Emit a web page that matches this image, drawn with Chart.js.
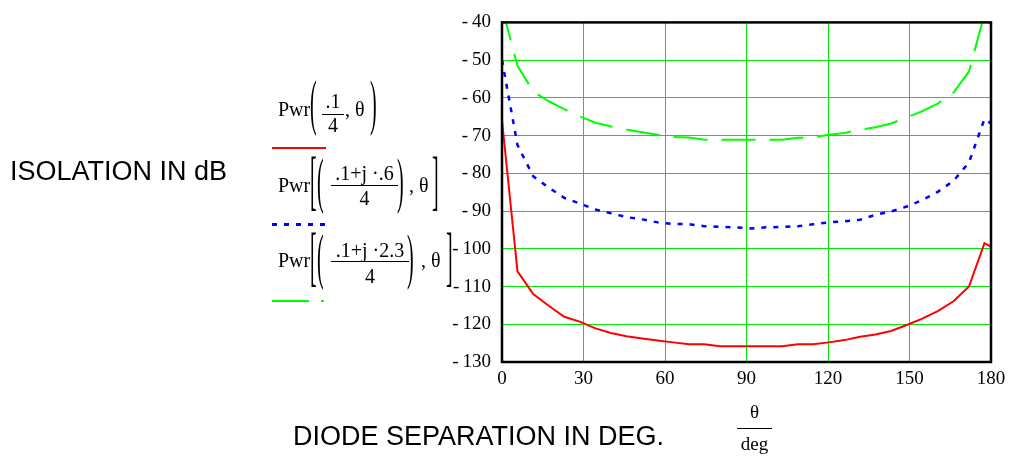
<!DOCTYPE html>
<html>
<head>
<meta charset="utf-8">
<script src="https://cdn.jsdelivr.net/npm/chart.js@4/dist/chart.umd.min.js"></script>
<style>
  html, body { margin: 0; padding: 0; background: #fff; }
  #wrap { position: relative; width: 1016px; height: 461px; overflow: hidden; }
  #chart { position: absolute; left: 0; top: 0; }
  .m { position: absolute; font: 20px "Liberation Serif", "Times New Roman", serif; line-height: 20px; white-space: pre; color: #000; }
  .c { text-align: center; }
  .big { transform-origin: 0 11.6px; transform: scaleY(3.05); }
  .brk { transform-origin: 0 11.7px; transform: scaleY(3.3); }
  .bar { position: absolute; height: 1px; background: #000; }
  .s { position: absolute; font: 27px "Liberation Sans", Arial, sans-serif; line-height: 27px; white-space: pre; color: #000; }
  .key { position: absolute; }
</style>
</head>
<body>
<div id="wrap">
  <canvas id="chart" width="1016" height="461"></canvas>

  <!-- titulo do eixo Y -->
  <div class="s" style="left:10px; top:158px">ISOLATION IN dB</div>
  <!-- titulo do eixo X -->
  <div class="s" style="left:293px; top:423px">DIODE SEPARATION IN DEG.</div>
  <div class="m c" style="left:737px; top:402px; width:35px; font-size:19px; line-height:19px">θ</div>
  <div class="bar" style="left:737px; top:428px; width:35px"></div>
  <div class="m c" style="left:737px; top:434px; width:35px; font-size:19px; line-height:19px">deg</div>

  <!-- legenda 1: Pwr(.1/4, θ) -->
  <div class="m" style="left:278px; top:99px">Pwr</div>
  <div class="m big" style="left:310px; top:95px">(</div>
  <div class="m c" style="left:322px; top:91px; width:22px">.1</div>
  <div class="bar" style="left:322px; top:114px; width:22px"></div>
  <div class="m c" style="left:322px; top:115px; width:22px">4</div>
  <div class="m" style="left:345px; top:99px">, θ</div>
  <div class="m big" style="left:370px; top:95px">)</div>
  <div class="key" style="left:272px; top:147px; width:54px; height:2px; background:#ff0000"></div>

  <!-- legenda 2: Pwr[(.1+j·.6)/4, θ] -->
  <div class="m" style="left:278px; top:175px">Pwr</div>
  <div class="m brk" style="left:310px; top:173px">[</div>
  <div class="m big" style="left:317px; top:173px">(</div>
  <div class="m c" style="left:331px; top:163px; width:67px">.1+j ·.6</div>
  <div class="bar" style="left:331px; top:185px; width:67px"></div>
  <div class="m c" style="left:331px; top:188px; width:67px">4</div>
  <div class="m big" style="left:397px; top:173px">)</div>
  <div class="m" style="left:409px; top:175px">, θ</div>
  <div class="m brk" style="left:432px; top:173px">]</div>
  <div class="key" style="left:272px; top:223px; width:54px; height:2.5px; background:repeating-linear-gradient(90deg,#0000ff 0 5px,transparent 5px 12px)"></div>

  <!-- legenda 3: Pwr[(.1+j·2.3)/4, θ] -->
  <div class="m" style="left:278px; top:250px">Pwr</div>
  <div class="m brk" style="left:310px; top:249px">[</div>
  <div class="m big" style="left:317px; top:249px">(</div>
  <div class="m c" style="left:331px; top:240px; width:78px">.1+j ·2.3</div>
  <div class="bar" style="left:331px; top:261px; width:78px"></div>
  <div class="m c" style="left:331px; top:266px; width:78px">4</div>
  <div class="m big" style="left:407px; top:249px">)</div>
  <div class="m" style="left:421px; top:250px">, θ</div>
  <div class="m brk" style="left:446px; top:249px">]</div>
  <div class="key" style="left:272px; top:300px; width:37px; height:2px; background:#00ff00"></div>
  <div class="key" style="left:321px; top:300px; width:3px; height:2px; background:#00ff00"></div>
</div>

<script>
// angulos amostrados (graus)
const theta = [0, 5.7, 11.5, 17.2, 22.9, 28.6, 34.4, 40.1, 45.8, 51.6, 57.3, 63.0, 68.8,
  74.5, 80.2, 85.9, 91.7, 97.4, 103.1, 108.9, 114.6, 120.3, 126.1, 131.8, 137.5,
  143.2, 149.0, 154.7, 160.4, 166.2, 171.9, 177.6, 183.3]

// Pwr(.1/4, θ)  - vermelho
const pwrA = [-66, -106, -112, -115.1, -118, -119.3, -121.1, -122.3, -123.2, -123.8, -124.3,
  -124.8, -125.3, -125.3, -125.8, -125.8, -125.8, -125.8, -125.8, -125.3, -125.3, -124.8,
  -124.2, -123.3, -122.7, -121.8, -120.2, -118.5, -116.5, -113.9, -110, -98.5, -100.7]

// Pwr((.1+j.6)/4, θ)  - azul pontilhado
const pwrB = [-50, -72.5, -80.8, -83.8, -86.5, -88.0, -89.6, -90.6, -91.6, -92.2, -93.0,
  -93.4, -93.5, -94.0, -94.2, -94.3, -94.6, -94.3, -94.2, -94.0, -93.5, -93.0,
  -92.7, -92.3, -91.0, -90.1, -88.8, -87.1, -84.9, -82.0, -77.1, -65.6, -68.4]

// Pwr((.1+j2.3)/4, θ)  - verde tracejado
const pwrC = [-36, -51.5, -58.3, -60.9, -63.0, -64.9, -66.6, -67.6, -68.4, -69.1, -69.8,
  -70.4, -70.5, -71.1, -71.1, -71.1, -71.1, -71.1, -71.1, -70.6, -70.5, -69.8,
  -69.3, -68.4, -67.8, -66.8, -65.2, -63.5, -61.5, -58.6, -53.0, -37.8, -44.7]

// marcas dos eixos
const xTicks = [0, 30, 60, 90, 120, 150, 180]
const yTicks = [-130, -120, -110, -100, -90, -80, -70, -60, -50, -40]

const toXY = (vals) => theta.map((t, i) => ({ x: t, y: vals[i] }))

// moldura preta em volta da area do grafico
const framePlugin = {
  id: "frame",
  afterDraw(chart) {
    const { ctx, chartArea: a } = chart
    ctx.save()
    ctx.strokeStyle = "#000"
    ctx.lineWidth = 2.5
    ctx.strokeRect(a.left, a.top, a.right - a.left, a.bottom - a.top)
    ctx.restore()
  },
}

const tickFont = { family: "'Liberation Serif', 'Times New Roman', serif", size: 19 }
const gridGreen = "#00e600"

new Chart(document.getElementById("chart").getContext("2d"), {
  type: "line",
  data: {
    datasets: [
      { data: toXY(pwrA), borderColor: "#ff0000", borderWidth: 2 },
      { data: toXY(pwrB), borderColor: "#0000ff", borderWidth: 2.5, borderDash: [5, 7] },
      { data: toXY(pwrC), borderColor: "#00ff00", borderWidth: 2, borderDash: [34, 14] },
    ],
  },
  options: {
    responsive: false,
    animation: false,
    events: [],
    devicePixelRatio: 1,
    elements: { point: { radius: 0 }, line: { tension: 0, fill: false } },
    layout: { padding: { left: 440, top: 13, right: 25, bottom: 69 } },
    plugins: { legend: { display: false }, tooltip: { enabled: false } },
    scales: {
      x: {
        type: "linear",
        min: 0,
        max: 180,
        afterBuildTicks: (s) => { s.ticks = xTicks.map((v) => ({ value: v })) },
        afterFit: (s) => { s.height = 30 },
        ticks: { font: tickFont, color: "#000", padding: 6, maxRotation: 0 },
        grid: { color: gridGreen, lineWidth: 1, drawTicks: false },
        border: { display: false },
      },
      y: {
        type: "linear",
        min: -130,
        max: -40,
        afterBuildTicks: (s) => { s.ticks = yTicks.map((v) => ({ value: v })) },
        afterFit: (s) => { s.width = 62 },
        ticks: {
          font: tickFont,
          color: "#000",
          padding: 11,
          callback: (v) => "-\u2009" + Math.abs(v),
        },
        grid: { color: gridGreen, lineWidth: 1, drawTicks: false },
        border: { display: false },
      },
    },
  },
  plugins: [framePlugin],
})
</script>
</body>
</html>
